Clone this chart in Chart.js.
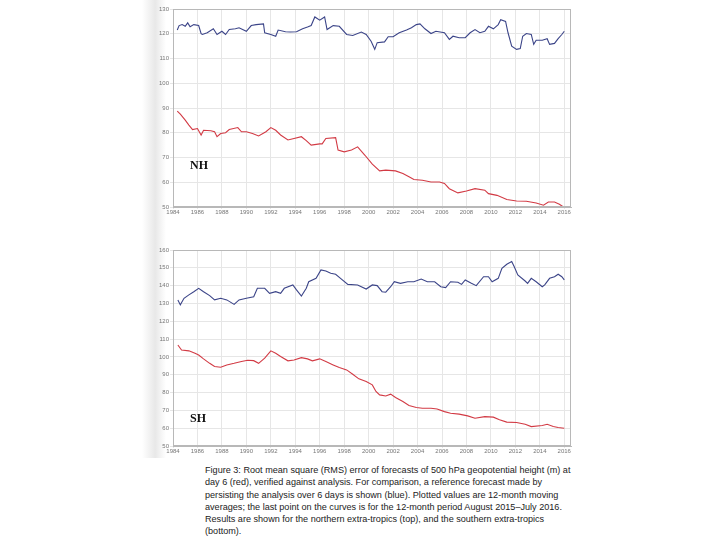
<!DOCTYPE html>
<html>
<head>
<meta charset="utf-8">
<script src="https://cdn.jsdelivr.net/npm/chart.js@4/dist/chart.umd.min.js"></script>
<style>
  body { margin: 0; background: #fff; }
  #page { position: relative; width: 720px; height: 540px; overflow: hidden; }
  .band { position: absolute; left: 142px; top: 0; width: 24px; height: 458px;
          background: linear-gradient(to right, rgba(230,230,230,0), #e8e8e8 55%, rgba(240,240,240,0)); }
  canvas { position: absolute; left: 140px; }
  .tag { position: absolute; font: bold 12px "Liberation Serif", serif; color: #111; }
  #caption { position: absolute; left: 205px; top: 464px; font: 9.1px "Liberation Sans", Arial, sans-serif;
             line-height: 12.3px; color: #222; white-space: nowrap; }
</style>
</head>
<body>
<div id="page">
  <div class="band"></div>
  <canvas id="nhChart" width="440" height="220" style="top:0px"></canvas>
  <canvas id="shChart" width="440" height="220" style="top:240px"></canvas>
  <div class="tag" style="left:190px; top:158px">NH</div>
  <div class="tag" style="left:190px; top:411px">SH</div>
  <div id="caption">
    Figure 3: Root mean square (RMS) error of forecasts of 500 hPa geopotential height (m) at<br>
    day 6 (red), verified against analysis. For comparison, a reference forecast made by<br>
    persisting the analysis over 6 days is shown (blue). Plotted values are 12-month moving<br>
    averages; the last point on the curves is for the 12-month period August 2015–July 2016.<br>
    Results are shown for the northern extra-tropics (top), and the southern extra-tropics<br>
    (bottom).
  </div>
</div>
<script>
// tick labels
const xTicks = [1984, 1986, 1988, 1990, 1992, 1994, 1996, 1998, 2000, 2002, 2004, 2006, 2008, 2010, 2012, 2014, 2016];
const nhYTicks = [50, 60, 70, 80, 90, 100, 110, 120, 130];
const shYTicks = [50, 60, 70, 80, 90, 100, 110, 120, 130, 140, 150, 160];

// NH persistence (blue)
const nhBlueYears = [1984.35, 1984.5, 1984.75, 1985.0, 1985.2, 1985.4, 1985.7, 1986.1, 1986.3, 1986.4, 1986.8, 1987.3, 1987.6, 1988.0, 1988.3, 1988.6, 1989.1, 1989.4, 1990.0, 1990.4, 1990.8, 1991.4, 1991.5, 1992.0, 1992.4, 1992.6, 1993.2, 1993.6, 1994.1, 1994.6, 1995.0, 1995.3, 1995.6, 1996.0, 1996.4, 1996.6, 1997.1, 1997.6, 1998.2, 1998.7, 1999.4, 1999.8, 2000.2, 2000.5, 2000.7, 2001.3, 2001.6, 2002.0, 2002.5, 2003.1, 2003.5, 2003.9, 2004.2, 2004.6, 2005.1, 2005.5, 2006.2, 2006.6, 2006.9, 2007.4, 2007.9, 2008.3, 2008.7, 2009.1, 2009.5, 2009.8, 2010.2, 2010.6, 2010.8, 2011.2, 2011.4, 2011.7, 2012.1, 2012.4, 2012.6, 2012.9, 2013.3, 2013.5, 2013.7, 2014.2, 2014.6, 2014.8, 2015.2, 2015.5, 2015.8, 2016.0];
const nhBlueRms = [121.5, 123.3, 123.7, 123, 124.4, 122.8, 123.7, 123.3, 120, 119.7, 120.4, 122, 119.7, 121, 119.7, 121.7, 122, 122.4, 121, 123.3, 123.7, 124, 120.4, 119.7, 119, 121.5, 120.8, 120.7, 120.8, 122, 122.7, 123.3, 126.8, 125.5, 126.8, 121.7, 123.3, 123, 119.7, 119.3, 120.7, 119.7, 117, 113.7, 116.4, 116.7, 118.8, 118.8, 120.4, 121.5, 122.4, 123.7, 124, 122, 120.1, 121, 120.4, 117.7, 119, 118.4, 118.4, 120.4, 121.7, 120.4, 121, 123, 122, 123.7, 125.7, 125, 120.4, 115, 113.7, 114, 119, 120.1, 119.7, 115.7, 117.4, 117.4, 118, 115.7, 116.1, 118, 119.7, 121];

// NH day 6 forecast (red)
const nhRedYears = [1984.35, 1984.6, 1985.0, 1985.3, 1985.6, 1986.0, 1986.3, 1986.5, 1987.1, 1987.4, 1987.6, 1987.9, 1988.3, 1988.6, 1989.3, 1989.6, 1990.0, 1990.5, 1991.0, 1991.6, 1992.0, 1992.4, 1992.8, 1993.4, 1993.9, 1994.5, 1994.9, 1995.3, 1996.0, 1996.2, 1996.5, 1997.3, 1997.5, 1998.0, 1998.6, 1999.1, 1999.7, 2000.3, 2000.9, 2001.4, 2002.2, 2002.8, 2003.3, 2003.7, 2004.4, 2005.1, 2005.8, 2006.2, 2006.6, 2007.3, 2008.0, 2008.7, 2009.5, 2009.8, 2010.5, 2011.3, 2012.1, 2012.9, 2013.7, 2014.3, 2014.7, 2015.2, 2015.6, 2016.0];
const nhRedRms = [88.7, 87.5, 85.1, 83.1, 81.3, 81.7, 79.1, 81, 80.8, 80.4, 78.4, 79.7, 80, 81.3, 82.1, 80.4, 80.4, 79.7, 78.7, 80.4, 82.1, 81, 79.1, 77.1, 77.7, 78.4, 76.8, 75, 75.5, 75.5, 77.7, 78, 73, 72.3, 73, 74.3, 70.9, 67.3, 64.6, 64.9, 64.6, 63.5, 62.2, 61.1, 60.8, 60.1, 60.1, 59.5, 57.4, 55.7, 56.5, 57.4, 56.8, 55.4, 54.7, 53, 52.4, 52.3, 51.6, 50.7, 52, 52, 51.1, 49.8];

// SH persistence (blue)
const shBlueYears = [1984.4, 1984.6, 1984.9, 1985.3, 1985.7, 1986.1, 1986.5, 1987.0, 1987.4, 1987.9, 1988.4, 1989.0, 1989.4, 1990.0, 1990.6, 1990.9, 1991.5, 1991.9, 1992.4, 1992.8, 1993.1, 1993.8, 1994.1, 1994.5, 1994.9, 1995.1, 1995.7, 1996.1, 1996.5, 1996.9, 1997.3, 1997.7, 1998.3, 1999.1, 1999.8, 2000.3, 2000.7, 2001.1, 2001.4, 2001.8, 2002.1, 2002.6, 2003.2, 2003.7, 2004.3, 2004.8, 2005.4, 2005.9, 2006.3, 2006.7, 2007.3, 2007.6, 2007.9, 2008.4, 2008.8, 2009.4, 2009.8, 2010.1, 2010.6, 2010.9, 2011.3, 2011.7, 2011.9, 2012.2, 2012.8, 2013.0, 2013.3, 2013.7, 2014.2, 2014.4, 2014.8, 2015.2, 2015.5, 2015.8, 2016.0];
const shBlueRms = [132, 129.2, 132.9, 134.8, 136.6, 138.5, 136.6, 134.4, 132, 132.9, 132, 129.5, 132, 132.9, 133.8, 138.5, 138.5, 135.7, 136.6, 135.7, 138.5, 140.4, 137.6, 134.2, 138.5, 142.2, 144.1, 148.8, 148.2, 146.9, 146.4, 144.1, 140.7, 140.4, 138.1, 140.4, 140, 136.6, 136.3, 139.4, 142.2, 141.3, 142.2, 142.2, 143.7, 142.2, 142.2, 139.4, 138.9, 142.2, 141.9, 140.7, 143.2, 141.3, 140, 145, 145, 142.2, 144.1, 149.7, 152, 153.5, 150.7, 146, 142.6, 141.3, 144.1, 142.2, 139.4, 140.4, 144.1, 145, 146.4, 145, 143.2];

// SH day 6 forecast (red)
const shRedYears = [1984.4, 1984.7, 1985.3, 1985.8, 1986.1, 1986.5, 1987.0, 1987.4, 1987.9, 1988.4, 1989.0, 1989.6, 1990.1, 1990.6, 1991.0, 1991.5, 1992.0, 1992.4, 1992.8, 1993.4, 1993.9, 1994.5, 1995.0, 1995.4, 1996.0, 1996.5, 1997.1, 1997.6, 1998.2, 1998.7, 1999.2, 1999.8, 2000.3, 2000.6, 2000.9, 2001.4, 2001.8, 2002.2, 2002.8, 2003.3, 2003.9, 2004.4, 2005.1, 2005.6, 2006.2, 2006.7, 2007.4, 2008.1, 2008.7, 2009.5, 2010.2, 2010.7, 2011.3, 2012.1, 2012.8, 2013.3, 2014.2, 2014.6, 2015.1, 2015.5, 2016.0];
const shRedRms = [106.7, 103.9, 103.4, 102, 101.1, 98.9, 96.4, 94.6, 94.2, 95.5, 96.4, 97.4, 98.1, 97.9, 96.4, 99.3, 103.4, 102, 100.2, 97.8, 98.3, 99.6, 98.9, 97.8, 98.9, 97.4, 95.5, 94, 92.7, 90.3, 87.7, 86.2, 84.3, 80.6, 78.7, 78.1, 79.1, 77.2, 75, 72.7, 71.6, 71.2, 71.2, 70.8, 69.3, 68.4, 67.9, 66.9, 65.6, 66.5, 66.2, 64.7, 63.4, 63.2, 62.2, 60.9, 61.5, 62.2, 60.9, 60.4, 60];

const blue = '#3b4488';
const red = '#d23a44';

function pts(xs, ys) {
    return xs.map((x, i) => ({ x: x, y: ys[i] }));
}

// frame around the plot area
const framePlugin = {
    id: 'frame',
    afterDraw(chart) {
        const a = chart.chartArea;
        const ctx = chart.ctx;
        ctx.save();
        ctx.strokeStyle = '#b8b8b8';
        ctx.lineWidth = 1;
        ctx.strokeRect(a.left + 0.5, a.top + 0.5, a.right - a.left - 1, a.bottom - a.top - 1);
        ctx.restore();
    }
};

function makePanel(id, yTicks, blueData, redData, padTop, xHeight) {
    const tickFont = { family: 'Liberation Sans', size: 6 };
    return new Chart(document.getElementById(id), {
        type: 'line',
        data: {
            datasets: [
                { data: blueData, borderColor: blue, borderWidth: 1.1, pointRadius: 0, tension: 0 },
                { data: redData, borderColor: red, borderWidth: 1.1, pointRadius: 0, tension: 0 }
            ]
        },
        options: {
            responsive: false,
            animation: false,
            layout: { padding: { top: padTop, right: 9, left: 0, bottom: 0 } },
            plugins: { legend: { display: false }, tooltip: { enabled: false } },
            scales: {
                x: {
                    type: 'linear',
                    min: 1984,
                    max: 2016.55,
                    afterBuildTicks: s => { s.ticks = xTicks.map(v => ({ value: v })); },
                    afterFit: s => { s.height = xHeight; },
                    grid: { color: '#e6e6e6', tickLength: 2, drawTicks: true },
                    border: { color: '#b8b8b8' },
                    ticks: { font: tickFont, color: '#777', padding: 0, maxRotation: 0, autoSkip: false,
                             callback: v => String(v) }
                },
                y: {
                    min: yTicks[0],
                    max: yTicks[yTicks.length - 1],
                    afterBuildTicks: s => { s.ticks = yTicks.map(v => ({ value: v })); },
                    afterFit: s => { s.width = 33; },
                    grid: { color: '#e6e6e6', tickLength: 3, drawTicks: true },
                    border: { color: '#b8b8b8' },
                    ticks: { font: tickFont, color: '#777', padding: 1 }
                }
            }
        },
        plugins: [framePlugin]
    });
}

makePanel('nhChart', nhYTicks, pts(nhBlueYears, nhBlueRms), pts(nhRedYears, nhRedRms), 9, 13);
makePanel('shChart', shYTicks, pts(shBlueYears, shBlueRms), pts(shRedYears, shRedRms), 10, 14);
</script>
</body>
</html>
